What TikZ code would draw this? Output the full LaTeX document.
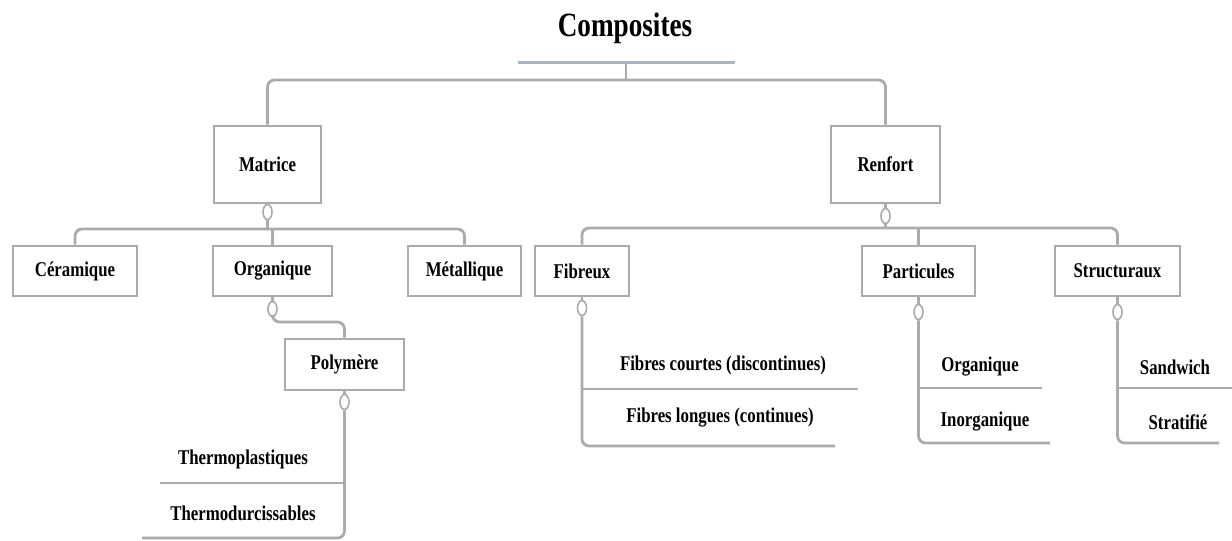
\documentclass[tikz,border=0pt]{standalone}
\usepackage{fontspec}
\setmainfont[FakeStretch=0.8]{Liberation Serif}
\usetikzlibrary{shapes.geometric}
\definecolor{linegray}{HTML}{ABABAB}
\definecolor{bargray}{HTML}{A9B4C6}
\begin{document}
\begin{tikzpicture}[x=1pt,y=-1pt,
  box/.style={draw=linegray, line width=2.6pt, fill=white, inner sep=0pt,
    font=\bfseries\fontsize{21}{24}\selectfont},
  lbl/.style={inner sep=0pt, font=\bfseries\fontsize{21}{24}\selectfont},
  conn/.style={draw=linegray, line width=2.8pt, rounded corners=7pt},
  ell/.style={ellipse, draw=linegray, line width=1.6pt, fill=white,
    minimum width=9pt, minimum height=15pt, inner sep=0pt}]
\useasboundingbox (0,0) rectangle (1232,541);

% title
\node[inner sep=0pt, font=\bfseries\fontsize{34}{40}\selectfont] (title) at (625,28) {Composites};
\coordinate (barL) at (518,62);
\coordinate (barR) at (735,62);
\coordinate (barM) at (626,62);
\draw[draw=bargray, line width=3pt] (barL) -- (barR);

% level 1
\node[box, minimum width=107pt, minimum height=77pt] (mat) at (267.5,164.5) {Matrice};
\node[box, minimum width=109pt, minimum height=77pt] (ren) at (885.5,164.5) {Renfort};
\draw[conn] (mat.north) -- (267.5,80) -- (885.5,80) -- (ren.north);
\draw[conn] (barM) -- (626,80);

% level 2 left
\node[box, minimum width=124pt, minimum height=50pt] (cer) at (75,271) {Céramique};
\node[box, minimum width=119pt, minimum height=50pt] (org) at (272.5,271) {Organique};
\node[box, minimum width=113pt, minimum height=50pt] (met) at (464.5,271) {Métallique};
\node[ell] (matE) at (267.5,212) {};
\draw[conn] (mat.south) -- (matE.north);
\draw[conn] (matE.south) -- (267.5,229);
\draw[conn] (cer.north) -- (75,229) -- (464.5,229) -- (met.north);
\draw[conn] (org.north) -- (272.5,229);

% polymere
\node[box, minimum width=119pt, minimum height=51pt] (pol) at (344.5,364.5) {Polymère};
\node[ell] (orgE) at (272.5,309) {};
\draw[conn] (org.south) -- (orgE.north);
\draw[conn] (orgE.south) -- (272.5,322) -- (344.5,322) -- (pol.north);
\node[ell] (polE) at (344.5,402) {};
\draw[conn] (pol.south) -- (polE.north);
\coordinate (polEnd) at (142,538);
\coordinate (polMid) at (160,483);
\draw[conn] (polE.south) -- (344.5,538) -- (polEnd);
\draw[conn] (344.5,483) -- (polMid);
\node[lbl] (thp) at (243,459) {Thermoplastiques};
\node[lbl] (thd) at (243,513) {Thermodurcissables};

% level 2 right
\node[box, minimum width=94pt, minimum height=50pt] (fib) at (582,271) {Fibreux};
\node[box, minimum width=113pt, minimum height=50pt] (par) at (918.5,271) {Particules};
\node[box, minimum width=125pt, minimum height=50pt] (str) at (1117.5,271) {Structuraux};
\node[ell] (renE) at (885.5,216) {};
\draw[conn] (ren.south) -- (renE.north);
\draw[conn] (renE.south) -- (885.5,228);
\draw[conn] (fib.north) -- (582,228) -- (1117.5,228) -- (str.north);
\draw[conn] (par.north) -- (918.5,228);

% fibreux list
\node[ell] (fibE) at (582,308) {};
\draw[conn] (fib.south) -- (fibE.north);
\coordinate (fibEnd) at (835,446);
\coordinate (fibMid) at (858,389);
\draw[conn] (fibE.south) -- (582,446) -- (fibEnd);
\draw[conn] (582,389) -- (fibMid);
\node[lbl] (fc) at (723,365) {Fibres courtes (discontinues)};
\node[lbl] (fl) at (720,418) {Fibres longues (continues)};

% particules list
\node[ell] (parE) at (918.5,312) {};
\draw[conn] (par.south) -- (parE.north);
\coordinate (parEnd) at (1050,443);
\coordinate (parMid) at (1042,388);
\draw[conn] (parE.south) -- (918.5,443) -- (parEnd);
\draw[conn] (918.5,388) -- (parMid);
\node[lbl] (po) at (980,367) {Organique};
\node[lbl] (pi) at (985,422) {Inorganique};

% structuraux list
\node[ell] (strE) at (1117.5,312) {};
\draw[conn] (str.south) -- (strE.north);
\coordinate (strEnd) at (1219,443);
\coordinate (strMid) at (1232,388);
\draw[conn] (strE.south) -- (1117.5,443) -- (strEnd);
\draw[conn] (1117.5,388) -- (strMid);
\node[lbl] (sa) at (1175,367) {Sandwich};
\node[lbl] (st) at (1178,422) {Stratifié};
\end{tikzpicture}
\end{document}
